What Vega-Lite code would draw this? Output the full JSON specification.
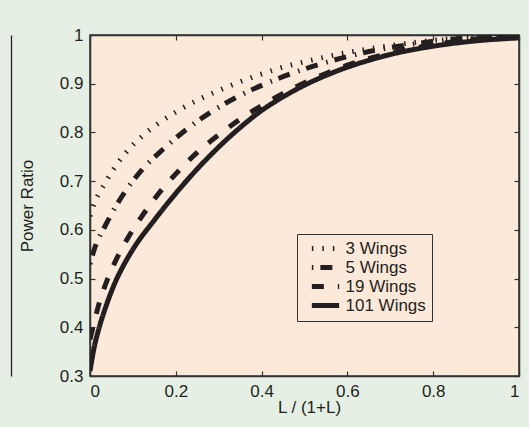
{
  "$schema": "https://vega.github.io/schema/vega-lite/v6.json",
  "autosize": {"type": "none"},
  "width": 429,
  "height": 341,
  "padding": {"left": 90, "top": 35, "right": 10, "bottom": 51},
  "background": "#e5efe4",
  "config": {
    "font": "Liberation Sans",
    "view": {"fill": "#fde9da", "stroke": "#333333", "strokeWidth": 1.5},
    "axis": {
      "grid": false,
      "domainColor": "#333333",
      "domainWidth": 1.5,
      "tickColor": "#333333",
      "tickWidth": 1.2,
      "tickSize": -5,
      "labelFont": "Liberation Sans",
      "labelFontSize": 17,
      "labelColor": "#231f20",
      "titleFont": "Liberation Sans",
      "titleFontSize": 17,
      "titleFontWeight": "normal",
      "titleColor": "#231f20"
    }
  },
  "data": {
    "values": [
      {"series": "3 Wings", "x": 0, "y": 0.628},
      {"series": "3 Wings", "x": 0.01, "y": 0.655},
      {"series": "3 Wings", "x": 0.02, "y": 0.673},
      {"series": "3 Wings", "x": 0.035, "y": 0.696},
      {"series": "3 Wings", "x": 0.06, "y": 0.731},
      {"series": "3 Wings", "x": 0.09, "y": 0.765},
      {"series": "3 Wings", "x": 0.125, "y": 0.795},
      {"series": "3 Wings", "x": 0.165, "y": 0.822},
      {"series": "3 Wings", "x": 0.2, "y": 0.842},
      {"series": "3 Wings", "x": 0.25, "y": 0.866},
      {"series": "3 Wings", "x": 0.3, "y": 0.886},
      {"series": "3 Wings", "x": 0.35, "y": 0.904},
      {"series": "3 Wings", "x": 0.4, "y": 0.92},
      {"series": "3 Wings", "x": 0.45, "y": 0.934},
      {"series": "3 Wings", "x": 0.5, "y": 0.945},
      {"series": "3 Wings", "x": 0.6, "y": 0.964},
      {"series": "3 Wings", "x": 0.7, "y": 0.978},
      {"series": "3 Wings", "x": 0.8, "y": 0.989},
      {"series": "3 Wings", "x": 0.9, "y": 0.996},
      {"series": "3 Wings", "x": 1, "y": 1.0},
      {"series": "5 Wings", "x": 0, "y": 0.53},
      {"series": "5 Wings", "x": 0.01, "y": 0.56},
      {"series": "5 Wings", "x": 0.037, "y": 0.611},
      {"series": "5 Wings", "x": 0.074, "y": 0.668},
      {"series": "5 Wings", "x": 0.12, "y": 0.722},
      {"series": "5 Wings", "x": 0.171, "y": 0.766},
      {"series": "5 Wings", "x": 0.229, "y": 0.809},
      {"series": "5 Wings", "x": 0.284, "y": 0.843},
      {"series": "5 Wings", "x": 0.357, "y": 0.879},
      {"series": "5 Wings", "x": 0.423, "y": 0.905},
      {"series": "5 Wings", "x": 0.493, "y": 0.928},
      {"series": "5 Wings", "x": 0.563, "y": 0.947},
      {"series": "5 Wings", "x": 0.65, "y": 0.966},
      {"series": "5 Wings", "x": 0.75, "y": 0.981},
      {"series": "5 Wings", "x": 0.85, "y": 0.992},
      {"series": "5 Wings", "x": 1, "y": 1.0},
      {"series": "19 Wings", "x": 0, "y": 0.375},
      {"series": "19 Wings", "x": 0.02, "y": 0.445},
      {"series": "19 Wings", "x": 0.04, "y": 0.497},
      {"series": "19 Wings", "x": 0.06, "y": 0.537},
      {"series": "19 Wings", "x": 0.09, "y": 0.586},
      {"series": "19 Wings", "x": 0.125, "y": 0.633},
      {"series": "19 Wings", "x": 0.165, "y": 0.68},
      {"series": "19 Wings", "x": 0.2, "y": 0.715},
      {"series": "19 Wings", "x": 0.25, "y": 0.759},
      {"series": "19 Wings", "x": 0.3, "y": 0.795},
      {"series": "19 Wings", "x": 0.35, "y": 0.827},
      {"series": "19 Wings", "x": 0.4, "y": 0.855},
      {"series": "19 Wings", "x": 0.45, "y": 0.88},
      {"series": "19 Wings", "x": 0.5, "y": 0.902},
      {"series": "19 Wings", "x": 0.55, "y": 0.921},
      {"series": "19 Wings", "x": 0.6, "y": 0.938},
      {"series": "19 Wings", "x": 0.7, "y": 0.963},
      {"series": "19 Wings", "x": 0.8, "y": 0.98},
      {"series": "19 Wings", "x": 0.9, "y": 0.992},
      {"series": "19 Wings", "x": 1, "y": 0.998},
      {"series": "101 Wings", "x": 0, "y": 0.31},
      {"series": "101 Wings", "x": 0.01, "y": 0.36},
      {"series": "101 Wings", "x": 0.02, "y": 0.395},
      {"series": "101 Wings", "x": 0.04, "y": 0.45},
      {"series": "101 Wings", "x": 0.06, "y": 0.495},
      {"series": "101 Wings", "x": 0.08, "y": 0.53},
      {"series": "101 Wings", "x": 0.1, "y": 0.56},
      {"series": "101 Wings", "x": 0.15, "y": 0.62},
      {"series": "101 Wings", "x": 0.2, "y": 0.675},
      {"series": "101 Wings", "x": 0.25, "y": 0.725},
      {"series": "101 Wings", "x": 0.3, "y": 0.77},
      {"series": "101 Wings", "x": 0.35, "y": 0.81},
      {"series": "101 Wings", "x": 0.4, "y": 0.845},
      {"series": "101 Wings", "x": 0.45, "y": 0.873},
      {"series": "101 Wings", "x": 0.5, "y": 0.897},
      {"series": "101 Wings", "x": 0.55, "y": 0.917},
      {"series": "101 Wings", "x": 0.6, "y": 0.934},
      {"series": "101 Wings", "x": 0.65, "y": 0.948},
      {"series": "101 Wings", "x": 0.7, "y": 0.96},
      {"series": "101 Wings", "x": 0.8, "y": 0.977},
      {"series": "101 Wings", "x": 0.9, "y": 0.988},
      {"series": "101 Wings", "x": 1, "y": 0.994}
    ]
  },
  "layer": [
    {
      "mark": {"type": "line", "color": "#231f20", "strokeWidth": 5, "interpolate": "monotone", "clip": true, "strokeCap": "butt"},
      "encoding": {
        "x": {"field": "x", "type": "quantitative", "scale": {"domain": [0, 1], "nice": false},
              "axis": {"orient": "bottom", "values": [0, 0.2, 0.4, 0.6, 0.8, 1], "format": "~g", "title": "L / (1+L)", "labelPadding": 12, "titlePadding": 0, "titleX": 219}},
        "y": {"field": "y", "type": "quantitative", "scale": {"domain": [0.3, 1], "nice": false, "zero": false},
              "axis": {"orient": "left", "values": [0.3, 0.4, 0.5, 0.6, 0.7, 0.8, 0.9, 1], "format": "~g", "title": "Power Ratio", "labelPadding": 12, "titlePadding": 23}},
        "strokeDash": {"field": "series", "type": "nominal",
          "scale": {"domain": ["3 Wings", "5 Wings", "19 Wings", "101 Wings"],
                    "range": [[1.5, 9], [1.5, 7, 12, 9], [12, 14], [1, 0]]},
          "legend": {"orient": "none", "legendX": 207, "legendY": 199, "title": null,
                     "strokeColor": "#333333", "fillColor": "#fde9da", "padding": 5.5,
                     "labelFontSize": 17, "labelColor": "#231f20", "labelFont": "Liberation Sans",
                     "symbolType": "M-2.1,0H2.1", "symbolStrokeWidth": 5, "symbolSize": 169,
                     "symbolOffset": 14,
                     "symbolStrokeColor": "#231f20", "rowPadding": -5, "labelOffset": 11}}
      }
    },
    {
      "mark": {"type": "point", "opacity": 0},
      "encoding": {
        "x": {"field": "x", "type": "quantitative", "scale": {"domain": [0, 1], "nice": false},
              "axis": {"orient": "top", "values": [0, 0.2, 0.4, 0.6, 0.8, 1], "labels": false, "title": null}},
        "y": {"field": "y", "type": "quantitative", "scale": {"domain": [0.3, 1], "nice": false, "zero": false},
              "axis": {"orient": "right", "values": [0.3, 0.4, 0.5, 0.6, 0.7, 0.8, 0.9, 1], "labels": false, "title": null}}
      }
    },
    {
      "mark": {"type": "point", "opacity": 0},
      "encoding": {
        "y": {"field": "y", "type": "quantitative", "scale": {"domain": [0.3, 1], "nice": false, "zero": false},
              "axis": {"orient": "left", "offset": 79, "labels": false, "ticks": false, "title": null, "domainColor": "#222222", "domainWidth": 1.3}}
      }
    }
  ],
  "resolve": {"axis": {"x": "independent", "y": "independent"}}
}
